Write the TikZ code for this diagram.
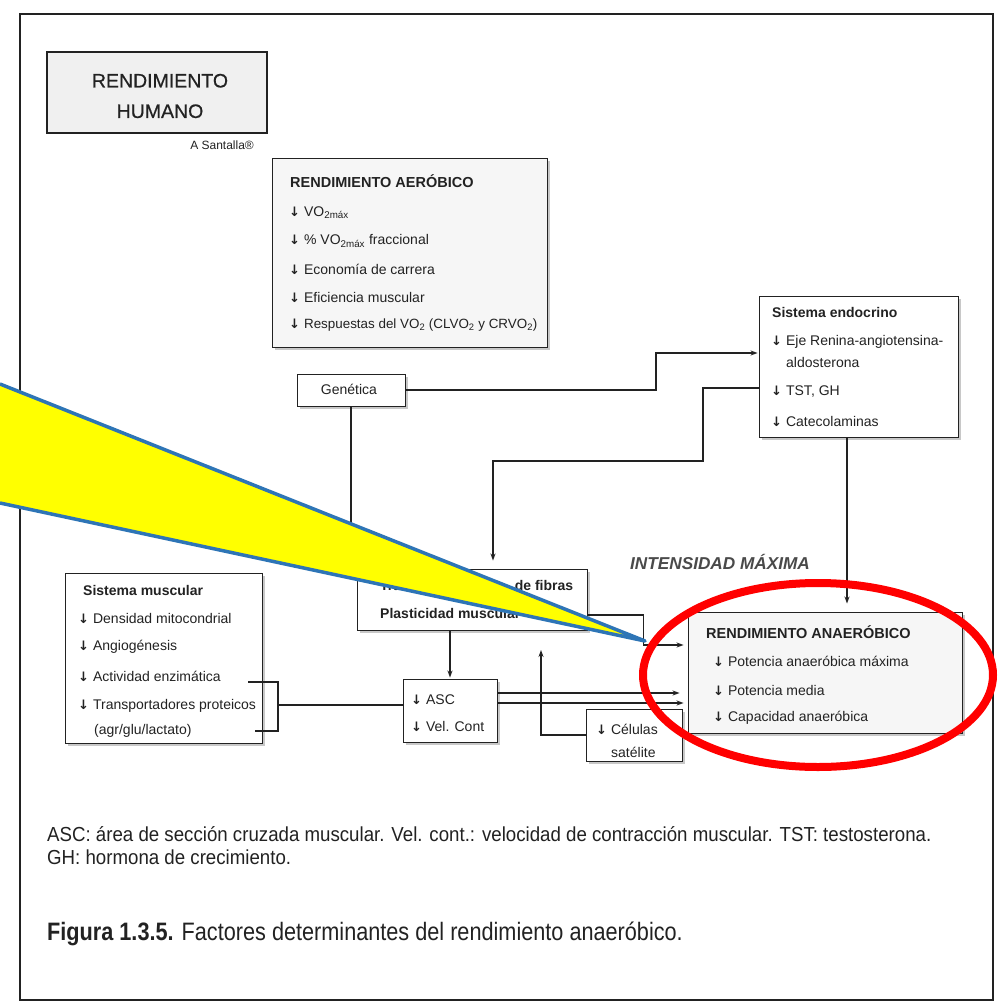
\documentclass[tikz,border=0pt]{standalone}
\usepackage{fontspec}
\setmainfont{Liberation Sans}
\newfontfamily\symfont{DejaVu Sans}
\newfontfamily\capfont[FakeStretch=0.86]{Liberation Sans}
\newfontfamily\notefont[FakeStretch=0.92]{Liberation Sans}
\newfontfamily\titlefont[FakeBold=0.6]{Liberation Sans}
\usetikzlibrary{arrows.meta,shadows}
\definecolor{ink}{HTML}{222222}
\definecolor{softink}{HTML}{4A4A4A}
\definecolor{callout}{HTML}{FFFF00}
\definecolor{calloutedge}{HTML}{2E75B6}
\definecolor{ring}{HTML}{FF0000}
\newcommand\fs[1]{\fontsize{#1}{#1}\selectfont}
\newcommand\dn{{\symfont\bfseries\fontsize{13}{13}\selectfont ↓}\hspace{4pt}}
\begin{document}
\begin{tikzpicture}[x=1pt,y=-1pt,
  box/.style={draw=ink,line width=0.9pt,fill=white,inner sep=0pt,
    drop shadow={shadow xshift=3pt,shadow yshift=-3pt,fill=gray!60,opacity=0.7}},
  greybox/.style={box,fill=gray!7},
  txt/.style={anchor=west,inner sep=0pt,text=ink,font=\fs{14}},
  head/.style={txt,font=\bfseries\fs{14}},
  conn/.style={draw=ink,line width=1.3pt,-{Stealth[length=7pt,width=5pt]}},
  wire/.style={draw=ink,line width=1.3pt}]
\useasboundingbox (0,0) rectangle (998,1006);
\fill[white] (0,0) rectangle (998,1006);
% outer frame
\draw[ink,line width=1.4pt] (20,14) rectangle (993,1000);

% title block
\node[draw=ink,line width=1.8pt,fill=gray!12,minimum width=220pt,minimum height=81pt,inner sep=0pt] (title) at (157,92.5) {};
\node[align=center,inner sep=0pt,text=ink,font=\titlefont\fs{19.5}] (titleT) at (160,96) {RENDIMIENTO\\[11pt]HUMANO};
\node[anchor=east,inner sep=0pt,text=ink,font=\fs{12}] (author) at (254,145) {A Santalla®};

% boxes
\node[greybox,minimum width=275pt,minimum height=189pt] (aer) at (409.5,252.5) {};
\node[box,minimum width=199pt,minimum height=141pt] (endo) at (858.5,366.5) {};
\node[box,minimum width=108pt,minimum height=32pt] (gen) at (351,390) {};
\node[box,minimum width=230pt,minimum height=61pt] (fib) at (472,599.5) {};
\node[box,minimum width=197pt,minimum height=170pt] (mus) at (163.5,658) {};
\node[box,minimum width=94pt,minimum height=63pt] (asc) at (450,710.5) {};
\node[box,minimum width=96pt,minimum height=52pt] (cel) at (634,735) {};
\node[greybox,minimum width=274pt,minimum height=121pt] (ana) at (825,672.5) {};

% aerobic performance
\node[head,font=\bfseries\fs{14.5}] (aerT) at (290,181) {RENDIMIENTO AERÓBICO};
\node[txt] (aer1) at (289,213) {\dn VO\textsubscript{2máx}};
\node[txt] (aer2) at (289,241) {\dn \% VO\textsubscript{2máx} fraccional};
\node[txt] (aer3) at (289,269) {\dn Economía de carrera};
\node[txt] (aer4) at (289,297) {\dn Eficiencia muscular};
\node[txt,font=\fs{13.4}] (aer5) at (289,325) {\dn Respuestas del VO\textsubscript{2} (CLVO\textsubscript{2} y CRVO\textsubscript{2})};

% endocrine system
\node[head] (endoT) at (772,312) {Sistema endocrino};
\node[txt] (endo1) at (771,342) {\dn Eje Renina-angiotensina-};
\node[txt] (endo1b) at (786,362) {aldosterona};
\node[txt] (endo2) at (771,392) {\dn TST, GH};
\node[txt] (endo3) at (771,421) {\dn Catecolaminas};

% genetics
\node[txt,anchor=center] (genT) at (349,389) {Genética};

% fibre plasticity
\node[head] (fib1) at (380,585) {\makebox[193pt][l]{Transformación\hfill de fibras}};
\node[head] (fib2) at (380,613) {Plasticidad muscular};

% muscular system
\node[head] (musT) at (83,590) {Sistema muscular};
\node[txt] (mus1) at (78,618) {\dn Densidad mitocondrial};
\node[txt] (mus2) at (78,647) {\dn Angiogénesis};
\node[txt] (mus3) at (78,676) {\dn Actividad enzimática};
\node[txt] (mus4) at (78,706) {\dn Transportadores proteicos};
\node[txt] (mus4b) at (94,731) {(agr/glu/lactato)};

% cross-section and contraction speed
\node[txt] (asc1) at (411,700) {\dn ASC};
\node[txt] (asc2) at (411,726) {\dn Vel. Cont};

% satellite cells
\node[txt] (cel1) at (596,729) {\dn Células};
\node[txt] (cel2) at (611,752) {satélite};

% anaerobic performance
\node[head,font=\bfseries\fs{14.5}] (anaT) at (706,632) {RENDIMIENTO ANAERÓBICO};
\node[txt] (ana1) at (713,661) {\dn Potencia anaeróbica máxima};
\node[txt] (ana2) at (713,690) {\dn Potencia media};
\node[txt] (ana3) at (713,718) {\dn Capacidad anaeróbica};

% intensity label
\node[inner sep=0pt,text=softink,font=\bfseries\itshape\fs{17.2}] (inten) at (720,562) {INTENSIDAD MÁXIMA};

% connectors
\coordinate (g1) at (656,353);
\draw[conn,shorten >=1pt] (gen.east) -| (g1) -- (g1 -| endo.west);
\draw[conn,shorten >=1pt] (gen.south) -- (gen.south |- fib.north);

\coordinate (ew) at ([yshift=-21.5pt]endo.west);
\draw[conn,shorten >=8pt] (ew) -| (703,461) -| ([xshift=21pt]fib.north);

\coordinate (eb) at ([xshift=-11.5pt]endo.south);
\draw[conn,shorten >=8pt] (eb) -- (eb |- ana.north);

\coordinate (fe) at ([yshift=-15.5pt]fib.east);
\draw[conn,shorten >=4pt] (fe) -- ++(56,0) -- ++(0,30) -- ([yshift=27.5pt]ana.west);

\draw[conn,shorten >=1pt] (fib.south -| asc.north) -- (asc.north);

\coordinate (b1) at (248,682);
\coordinate (b2) at (278,682);
\coordinate (b3) at (278,731);
\coordinate (b4) at (255,731);
\coordinate (b5) at (278,705);
\draw[wire] (b1) -- (b2) -- (b3) -- (b4);
\draw[wire] (b5) -- (b5 -| asc.west);

\coordinate (a1) at ([yshift=17.5pt]asc.east);
\coordinate (a2) at ([yshift=7.5pt]asc.east);
\draw[conn,shorten >=8pt] (a1) -- (a1 -| ana.west);
\draw[conn,shorten >=4pt] (a2) -- (a2 -| ana.west);

\coordinate (cup) at (541,650);
\draw[conn] (cel.west) -| (cup);

% footnote and caption
\node[anchor=west,inner sep=0pt,text=ink,font=\notefont\fs{20.3}] (note1) at (47,834) {ASC: área de sección cruzada muscular. Vel. cont.: velocidad de contracción muscular. TST: testosterona.};
\node[anchor=west,inner sep=0pt,text=ink,font=\notefont\fs{20.3}] (note2) at (47,857) {GH: hormona de crecimiento.};
\node[anchor=west,inner sep=0pt,text=ink,font=\capfont\fs{25.2}] (cap) at (47,934) {\textbf{Figura 1.3.5.} Factores determinantes del rendimiento anaeróbico.};

% highlight callout and ring
\fill[callout] (0,384) -- (645,641) -- (0,503) -- cycle;
\draw[calloutedge,line width=3.5pt,line join=round] (0,384) -- (645,641) -- (0,503);
\draw[ring,line width=8pt] (818,675) ellipse [x radius=175pt, y radius=92pt];
\end{tikzpicture}
\end{document}
